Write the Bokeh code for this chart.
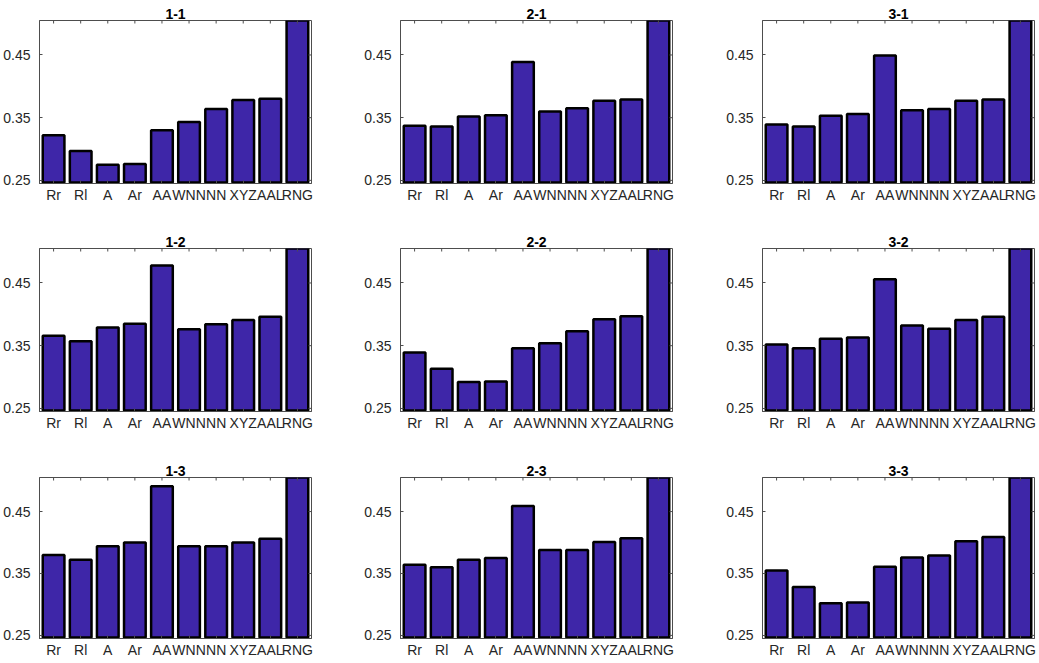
import math
from bokeh.plotting import figure
from bokeh.models import Range1d, FixedTicker, Title
from bokeh.layouts import column, row
from bokeh.embed import file_html
from bokeh.resources import INLINE

# ---------------- data ----------------
categories = ["Rr", "Rl", "A", "Ar", "AA", "WNN", "NN", "XYZ", "AAL", "RNG"]
y_ticks = [0.25, 0.35, 0.45]
y_lo, y_hi = 0.245, 0.505
bar_base = 0.2466
rng_value = 0.60  # RNG bar is clipped at the top of every panel (estimate)

v_1_1 = [0.322, 0.297, 0.275, 0.276, 0.330, 0.343, 0.364, 0.378, 0.380, rng_value]
v_2_1 = [0.337, 0.336, 0.352, 0.354, 0.439, 0.360, 0.365, 0.377, 0.379, rng_value]
v_3_1 = [0.339, 0.336, 0.353, 0.356, 0.449, 0.362, 0.364, 0.377, 0.379, rng_value]
v_1_2 = [0.366, 0.357, 0.379, 0.385, 0.478, 0.376, 0.384, 0.391, 0.396, rng_value]
v_2_2 = [0.339, 0.313, 0.292, 0.293, 0.346, 0.354, 0.373, 0.392, 0.397, rng_value]
v_3_2 = [0.352, 0.346, 0.361, 0.363, 0.456, 0.382, 0.377, 0.391, 0.396, rng_value]
v_1_3 = [0.380, 0.372, 0.394, 0.400, 0.491, 0.394, 0.394, 0.400, 0.406, rng_value]
v_2_3 = [0.364, 0.360, 0.372, 0.375, 0.459, 0.388, 0.388, 0.401, 0.407, rng_value]
v_3_3 = [0.355, 0.328, 0.302, 0.303, 0.361, 0.376, 0.379, 0.402, 0.409, rng_value]

panel_rows = [
    [("1-1", v_1_1), ("2-1", v_2_1), ("3-1", v_3_1)],
    [("1-2", v_1_2), ("2-2", v_2_2), ("3-2", v_3_2)],
    [("1-3", v_1_3), ("2-3", v_2_3), ("3-3", v_3_3)],
]

# ---------------- style / layout ----------------
FONT = "Liberation Sans"
BAR_COLOR = "#3E26A8"
FRAME_COLOR = "#4d4d4d"
TEXT_COLOR = "#262626"
FRAME_W, FRAME_H = 274, 163
col_left = [37, 37, 37]
col_right = [50, 51, 5]
row_top = [20, 20, 20]
row_bottom = [45, 46, 20]

xs = list(range(1, len(categories) + 1))
label_map = {x: c for x, c in zip(xs, categories)}
x_lo, x_hi = 0.48, len(categories) + 0.52


def make_panel(title, vals, ci, ri):
    p = figure(
        width=col_left[ci] + FRAME_W + col_right[ci],
        height=row_top[ri] + FRAME_H + row_bottom[ri],
        x_range=Range1d(x_lo, x_hi),
        y_range=Range1d(y_lo, y_hi),
        output_backend="svg",
        toolbar_location=None,
        min_border_left=col_left[ci],
        min_border_right=col_right[ci],
        min_border_top=row_top[ri],
        min_border_bottom=row_bottom[ri],
        background_fill_color="white",
        border_fill_color="white",
        title=None,
    )
    p.add_layout(Title(text=title, align="center", standoff=3,
                       text_font=FONT, text_font_size="14px", text_font_style="bold",
                       text_color="black"), "above")
    p.grid.visible = False
    p.outline_line_color = FRAME_COLOR
    p.outline_line_width = 1

    p.vbar(x=xs, top=vals, bottom=bar_base, width=0.8,
           fill_color=BAR_COLOR, line_color="black", line_width=2.5)

    # tick marks on the top and right edges of the box (clipped half of a dash)
    p.scatter(x=xs, y=[y_hi] * len(xs), marker="dash", angle=math.pi / 2,
              size=6, line_color=FRAME_COLOR, line_width=1)
    p.scatter(x=[x_hi] * len(y_ticks), y=y_ticks, marker="dash",
              size=6, line_color=FRAME_COLOR, line_width=1)

    # bottom axis
    xa = p.xaxis[0]
    xa.ticker = FixedTicker(ticks=xs)
    xa.major_label_overrides = label_map
    xa.major_tick_in = 3
    xa.major_tick_out = 0
    xa.minor_tick_line_color = None
    xa.axis_line_color = FRAME_COLOR
    xa.major_tick_line_color = FRAME_COLOR
    xa.major_label_standoff = 3
    xa.major_label_text_font = FONT
    xa.major_label_text_font_size = "14px"
    xa.major_label_text_color = TEXT_COLOR

    # left axis
    ya = p.yaxis[0]
    ya.ticker = FixedTicker(ticks=y_ticks)
    ya.major_tick_in = 3
    ya.major_tick_out = 0
    ya.minor_tick_line_color = None
    ya.axis_line_color = FRAME_COLOR
    ya.major_tick_line_color = FRAME_COLOR
    ya.major_label_standoff = 9
    ya.major_label_text_font = FONT
    ya.major_label_text_font_size = "14px"
    ya.major_label_text_color = TEXT_COLOR
    return p


rows = []
for ri, prow in enumerate(panel_rows):
    figs = [make_panel(t, v, ci, ri) for ci, (t, v) in enumerate(prow)]
    rows.append(row(*figs, spacing=0))
layout = column(*rows, spacing=0)

open("out.html", "w").write(file_html(layout, INLINE))
